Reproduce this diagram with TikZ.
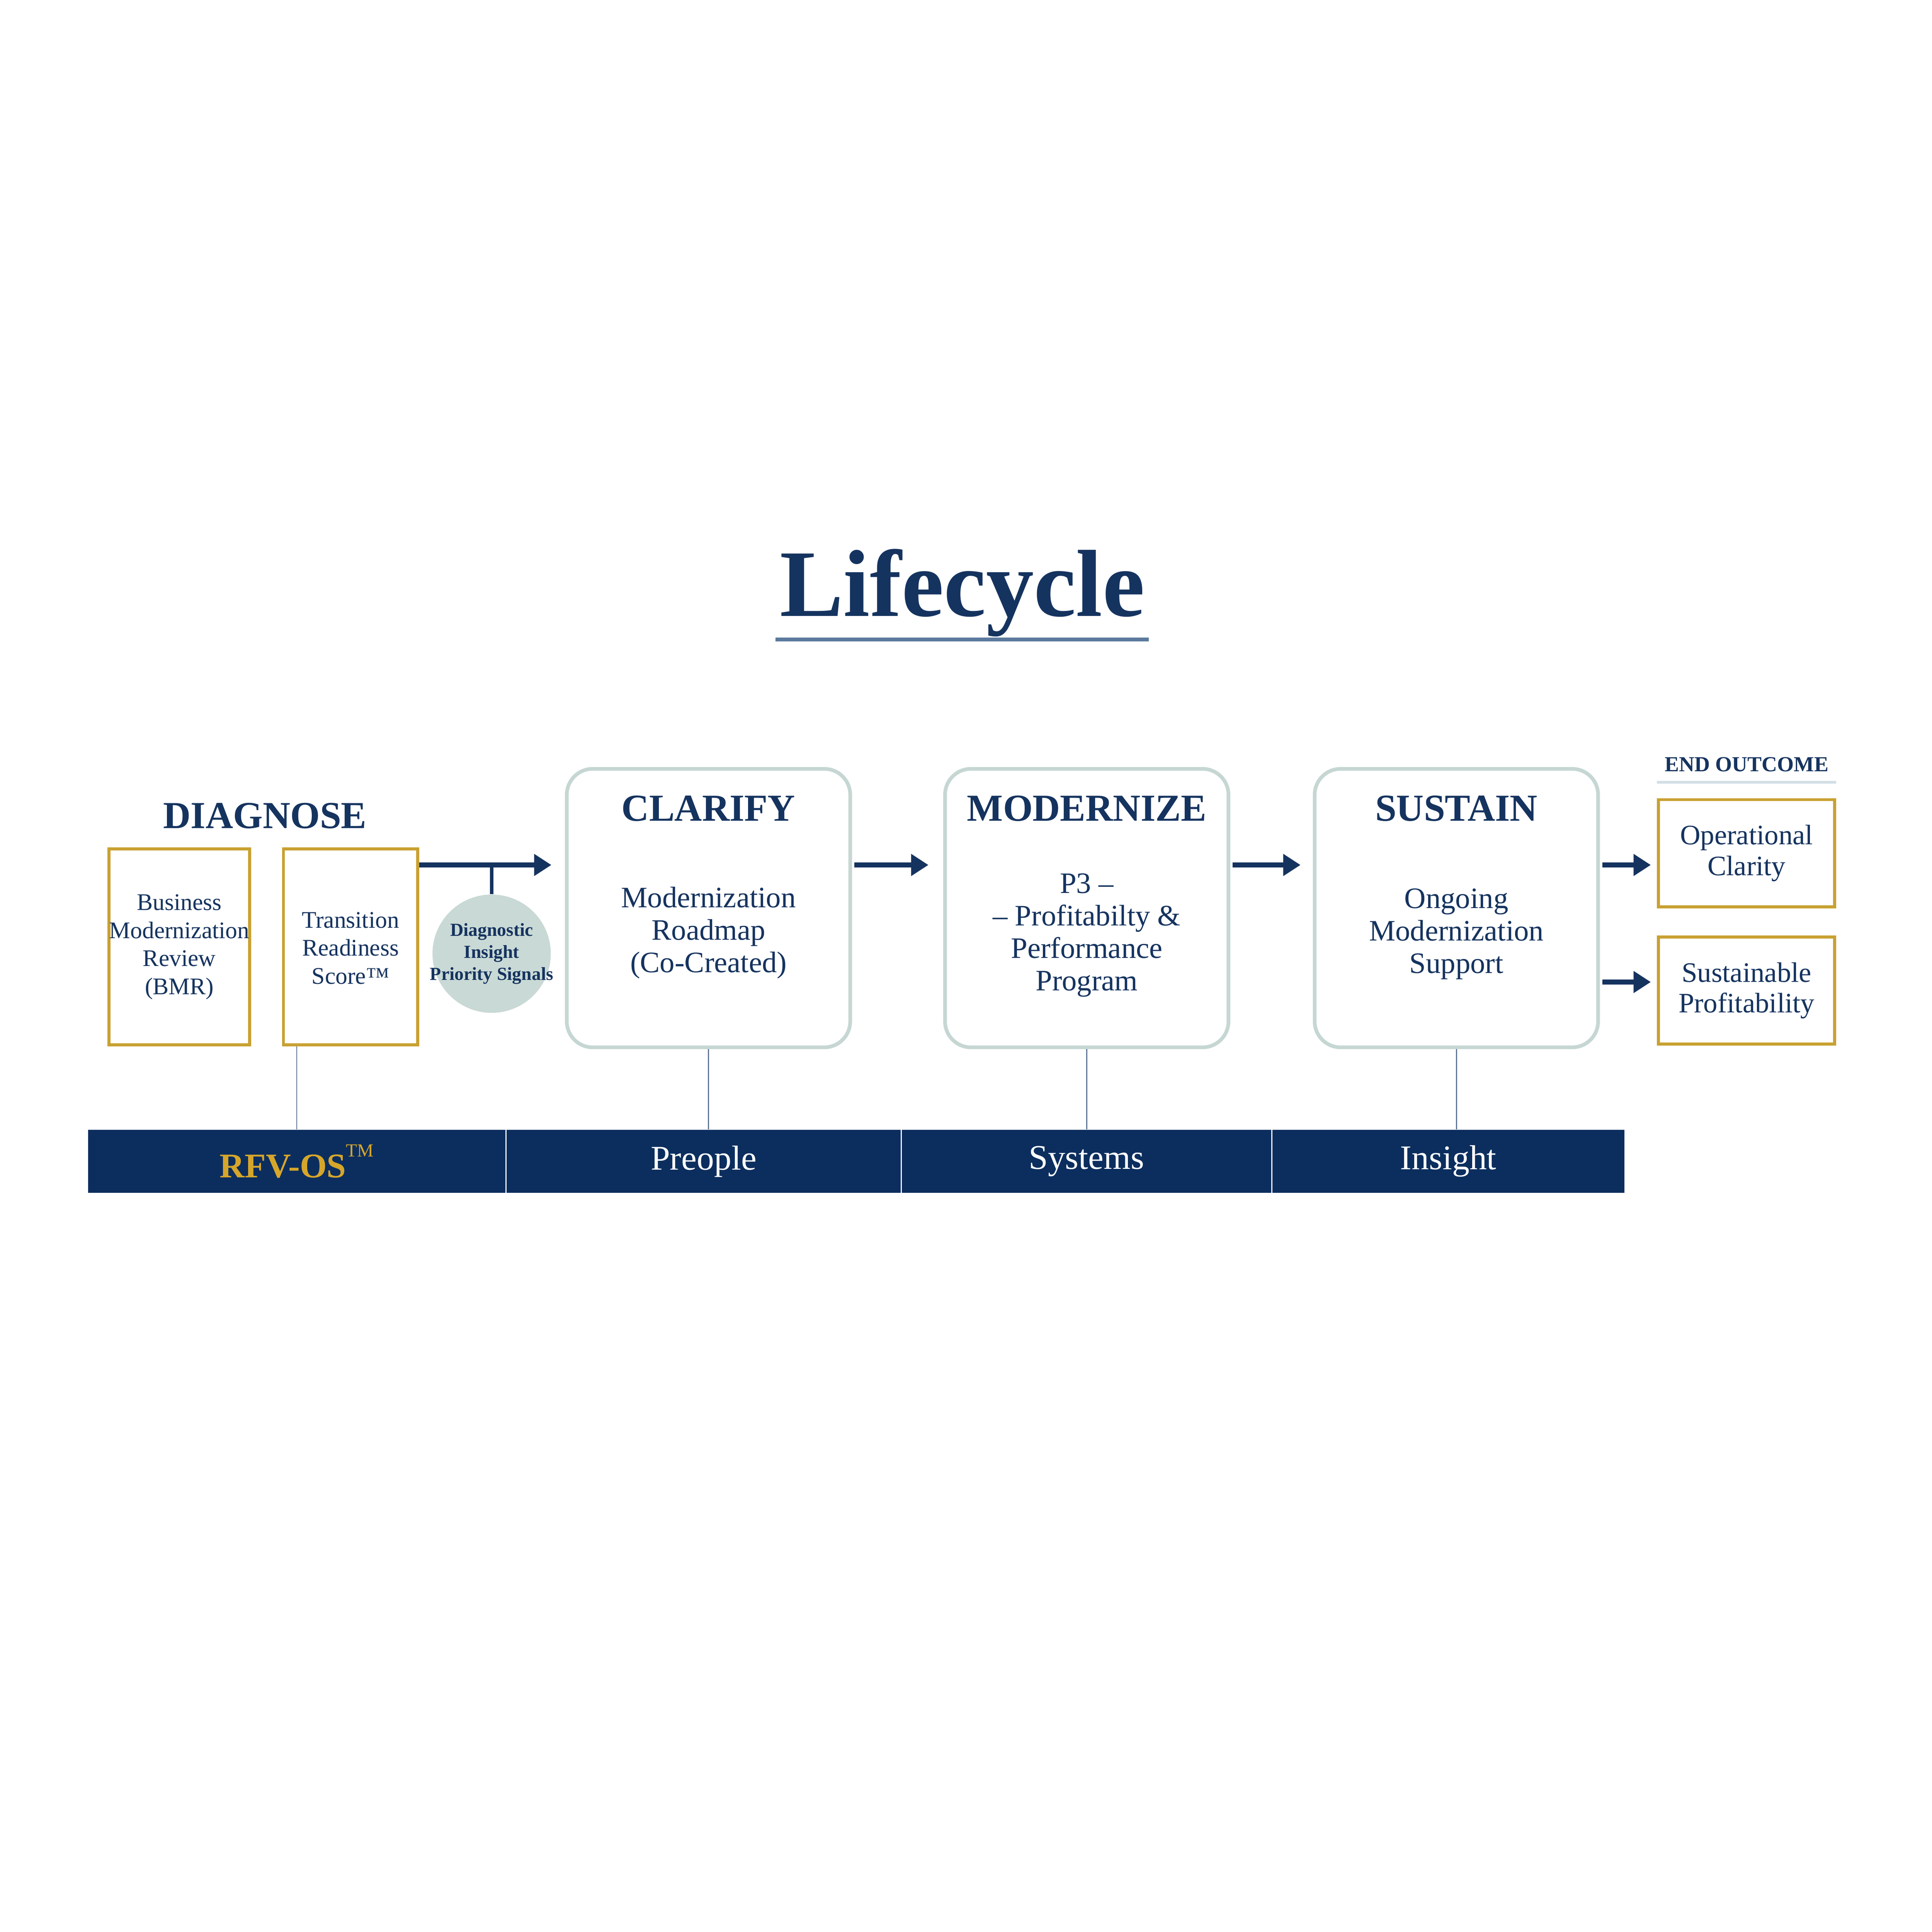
\documentclass[tikz,border=0pt]{standalone}
\usepackage{fontspec}
\setmainfont{Liberation Serif}
\usetikzlibrary{positioning, arrows.meta, calc}

\definecolor{navy}{HTML}{15335F}
\definecolor{barblue}{HTML}{0B2E5E}
\definecolor{gold}{HTML}{C9A132}
\definecolor{goldtext}{HTML}{D6A62B}
\definecolor{sage}{HTML}{C6D7D3}
\definecolor{sagefill}{HTML}{C9D9D5}
\definecolor{steel}{HTML}{5B7A9D}
\definecolor{paleline}{HTML}{D3DEE5}
\definecolor{thinline}{HTML}{5F7594}

\tikzset{
    stage/.style={draw=sage, line width=1.7pt, rounded corners=0.42cm,
        minimum width=4.6cm, minimum height=4.52cm},
    toolbox/.style={draw=gold, line width=1.4pt, minimum height=3.18cm,
        inner sep=0pt, align=center, text=navy,
        font=\fontsize{11}{13}\selectfont},
    outbox/.style={draw=gold, line width=1.4pt, minimum width=2.86cm,
        minimum height=1.74cm, align=center, text=navy,
        font=\fontsize{13}{14.2}\selectfont},
    heading/.style={inner sep=0pt, text=navy,
        font=\fontsize{17.6}{20}\selectfont\bfseries},
    body/.style={align=center, text=navy, font=\fontsize{13.7}{15}\selectfont},
    flow/.style={-{Triangle[length=0.28cm,width=0.34cm]}, line width=2.2pt,
        draw=navy},
    tie/.style={draw=thinline, line width=0.5pt},
    band/.style={fill=barblue, minimum height=1.02cm, inner sep=0pt,
        text=white, font=\fontsize{16}{18}\selectfont}
}

\begin{document}
\begin{tikzpicture}
    \fill[white] (0,0) rectangle (31.36,-31.36);
    \useasboundingbox (0,0) rectangle (31.36,-31.36);

    % title
    \node[inner sep=0pt, anchor=base, text=navy,
        font=\fontsize{44}{50}\selectfont\bfseries] (title) at (15.62,-10.0) {Lifecycle};
    \draw[steel, line width=1.7pt] ($(title.base west)+(-0.06,-0.38)$)
        -- ($(title.base east)+(0.06,-0.38)$);

    % diagnose
    \node[toolbox, minimum width=2.18cm] (TRS) at (5.69,-15.37)
        {\\[-0.9ex]Transition\\Readiness\\Score™};
    \node[toolbox, minimum width=2.28cm, left=0.5cm of TRS] (BMR)
        {Business\\Modernization\\Review\\(BMR)};
    \coordinate (dtop) at ($(BMR.north)!0.5!(TRS.north)$);
    \node[heading, above=0.3cm of dtop] (diag) {DIAGNOSE};

    \node[circle, fill=sagefill, minimum size=1.92cm, inner sep=0pt] (DI) at (7.98,-15.48) {};
    \node[align=center, text=navy, font=\fontsize{8.5}{10.2}\selectfont\bfseries]
        (DItext) at (DI.center) {Diagnostic\\Insight\\Priority Signals};

    % stages
    \node[stage] (CL) at (11.5,-14.74) {};
    \node[stage, right=1.48cm of CL] (MOD) {};
    \node[stage, right=1.34cm of MOD] (SUS) {};

    \node[heading, below=0.46cm of CL.north] (CLhead) {CLARIFY};
    \node[heading, below=0.46cm of MOD.north] (MODhead) {MODERNIZE};
    \node[heading, below=0.46cm of SUS.north] (SUShead) {SUSTAIN};

    \node[body] (CLbody) at ([yshift=-0.4cm]CL.center)
        {Modernization\\Roadmap\\(Co-Created)};
    \node[body] (MODbody) at ([yshift=-0.44cm]MOD.center)
        {P3 –\\– Profitabilty \&\\Performance\\Program};
    \node[body] (SUSbody) at ([yshift=-0.42cm]SUS.center)
        {Ongoing\\Modernization\\Support};

    % end outcome
    \node[outbox] (OC) at (28.35,-13.85) {Operational\\Clarity};
    \node[outbox, below=0.44cm of OC] (SP) {Sustainable\\Profitability};
    \node[inner sep=0pt, above=0.42cm of OC, text=navy,
        font=\fontsize{9.9}{11}\selectfont\bfseries] (endlabel) {END OUTCOME};
    \draw[paleline, line width=1.2pt] ($(OC.north west)+(0,0.26)$)
        -- ($(OC.north east)+(0,0.26)$);

    % arrows
    \coordinate (tr) at ([yshift=1.33cm]TRS.east);
    \draw[flow, shorten >=0.22cm] (tr) -- (tr -| CL.west);
    \draw[navy, line width=1.5pt] (DI.north) -- (DI.north |- tr);
    \draw[flow, shorten <=0.04cm, shorten >=0.24cm]
        ([yshift=0.7cm]CL.east) -- ([yshift=0.7cm]MOD.west);
    \draw[flow, shorten <=0.04cm, shorten >=0.2cm]
        ([yshift=0.7cm]MOD.east) -- ([yshift=0.7cm]SUS.west);
    \coordinate (s1) at ([yshift=0.7cm]SUS.east);
    \coordinate (s2) at ([yshift=-1.2cm]SUS.east);
    \draw[flow, shorten <=0.04cm, shorten >=0.1cm] (s1) -- (s1 -| OC.west);
    \draw[flow, shorten <=0.04cm, shorten >=0.1cm] (s2) -- (s2 -| SP.west);

    % bottom bar
    \node[band, minimum width=6.78cm, anchor=west, font=\fontsize{16}{18}\selectfont\bfseries,
        text=goldtext] (os) at (1.42,-18.85)
        {RFV-OS\raisebox{0.6em}{\fontsize{8.5}{9}\selectfont\mdseries TM}};
    \node[band, minimum width=6.4cm, right=0pt of os] (people) {Preople};
    \node[band, minimum width=6.0cm, right=0pt of people] (systems) {Systems};
    \node[band, minimum width=5.72cm, right=0pt of systems] (insight) {Insight};
    \draw[white, line width=0.6pt] (os.north east) -- (os.south east);
    \draw[white, line width=0.6pt] (people.north east) -- (people.south east);
    \draw[white, line width=0.6pt] (systems.north east) -- (systems.south east);

    % ties to the bar
    \draw[tie] (os.north) -- (os.north |- TRS.south);
    \draw[tie] (CL.south) -- (CL.south |- people.north);
    \draw[tie] (MOD.south) -- (MOD.south |- systems.north);
    \draw[tie] (SUS.south) -- (SUS.south |- insight.north);
\end{tikzpicture}
\end{document}
